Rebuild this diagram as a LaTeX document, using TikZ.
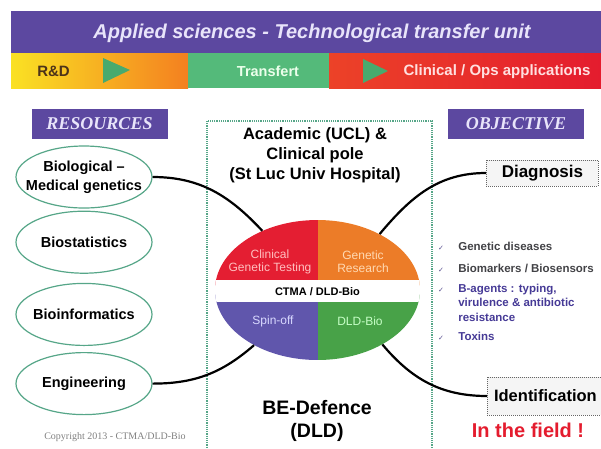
\documentclass[tikz,border=0pt]{standalone}
\usepackage{fontspec}
\setmainfont{Liberation Sans}
\newfontfamily\capsfont{Liberation Serif}
\newfontfamily\symbfont{DejaVu Sans}
\usepackage{tikz}
\usetikzlibrary{positioning, shapes.geometric}
\definecolor{ctmapurple}{RGB}{92,72,160}
\definecolor{ctmalav}{RGB}{232,228,250}
\definecolor{ctmayellow}{RGB}{250,225,35}
\definecolor{ctmaorange}{RGB}{244,128,32}
\definecolor{ctmagreen}{RGB}{84,186,122}
\definecolor{ctmared}{RGB}{228,28,46}
\definecolor{ctmaredor}{RGB}{236,66,40}
\definecolor{ctmatri}{RGB}{72,170,110}
\definecolor{ctmateal}{RGB}{86,166,136}
\definecolor{qred}{RGB}{228,30,50}
\definecolor{qorange}{RGB}{236,124,40}
\definecolor{qpurple}{RGB}{96,86,172}
\definecolor{qgreen}{RGB}{72,162,72}
\definecolor{ctmadark}{RGB}{66,66,70}
\definecolor{ctmablue}{RGB}{70,58,150}

\begin{document}
\begin{tikzpicture}[x=1pt, y=1pt,
      resbox/.style={ellipse, draw=ctmateal, line width=1.2pt, fill=white, minimum width=136pt, minimum height=62pt, inner xsep=-10pt, inner ysep=0pt, font=\bfseries\fontsize{14.5}{19}\selectfont, align=center},
      tagbox/.style={fill=ctmapurple, text=ctmalav, minimum width=136pt, minimum height=30pt, inner sep=0pt, font=\capsfont\bfseries\itshape\fontsize{18}{20}\selectfont},
      goalbox/.style={draw=gray!80!black, dash pattern=on 1pt off 1pt, thick, fill=gray!8, anchor=west, minimum width=112pt, inner sep=0pt, font=\bfseries\fontsize{17}{19}\selectfont},
      core/.style={ellipse, minimum width=205pt, minimum height=140pt, inner sep=0pt},
      quadtext/.style={font=\fontsize{12}{13}\selectfont, align=center},
      link/.style={line width=2.2pt, black},
      chkmark/.style={font=\symbfont\fontsize{7}{8}\selectfont, text=ctmablue!70!gray, inner sep=0pt},
      itemtext/.style={font=\bfseries\fontsize{11.5}{14.5}\selectfont, align=left, inner sep=0pt},
    ]
    \useasboundingbox (0,0) rectangle (601,-448);
    \clip (0,0) rectangle (601,-448);

    \fill[ctmapurple] (11,-11) rectangle (601,-53);
    \shade[left color=ctmayellow, right color=ctmaorange] (11,-53) rectangle (188,-88);
    \fill[ctmagreen] (188,-53) rectangle (329,-88);
    \shade[left color=ctmaredor, right color=ctmared] (329,-53) rectangle (601,-88);
    \fill[ctmatri] (103,-58) -- (130,-70) -- (103,-83) -- cycle;
    \fill[ctmatri] (363,-59) -- (388,-71) -- (363,-83) -- cycle;
    \node[text=ctmalav, font=\bfseries\itshape\fontsize{20}{22}\selectfont] (title) at (312,-33) {Applied sciences - Technological transfer unit};
    \node[text=black!60!brown, font=\bfseries\fontsize{15}{16}\selectfont] (rd) at (53.5,-71.5) {R\&D};
    \node[text=green!8, font=\bfseries\fontsize{14.5}{16}\selectfont] (transfert) at (268,-71) {Transfert};
    \node[text=red!12, font=\bfseries\fontsize{15}{16}\selectfont] (clinops) at (497,-72) {Clinical / Ops applications};

    \node[tagbox] (resources) at (99.5,-124) {RESOURCES};
    \node[tagbox] (objective) at (516,-123.5) {OBJECTIVE};

    \node[resbox] (bio) at (84,-177) {Biological --\\Medical genetics};
    \node[resbox, below=2pt of bio] (stats) {Biostatistics};
    \node[resbox, below=9pt of stats] (infor) {Bioinformatics};
    \node[resbox, below=6pt of infor] (eng) {Engineering};
    \node[text=gray, font=\capsfont\fontsize{10}{12}\selectfont] (copy) at (115,-437) {Copyright 2013 - CTMA/DLD-Bio};

    \draw[ctmateal, line width=1.2pt, dash pattern=on 1.2pt off 1pt] (207,-121) rectangle (432,-470);
    \node[font=\bfseries\fontsize{16.5}{20}\selectfont, align=center] (acad) at (315,-155) {Academic (UCL) \&\\Clinical pole\\(St Luc Univ Hospital)};
    \node[font=\bfseries\fontsize{19.5}{23}\selectfont, align=center] (bedef) at (317,-421) {BE-Defence\\(DLD)};

    \node[core, path picture={
        \fill[qred] (path picture bounding box.north west) rectangle (path picture bounding box.center);
        \fill[qorange] (path picture bounding box.north east) rectangle (path picture bounding box.center);
        \fill[qpurple] (path picture bounding box.south west) rectangle (path picture bounding box.center);
        \fill[qgreen] (path picture bounding box.south east) rectangle (path picture bounding box.center);
        \fill[white] ([yshift=10pt]path picture bounding box.west) rectangle ([yshift=-12pt]path picture bounding box.east);
      }] (core) at (317.5,-290) {};
    \node[quadtext, text=red!25] (clin) at (270,-261.5) {Clinical\\Genetic Testing};
    \node[quadtext, text=orange!30] (gres) at (363,-261.5) {Genetic\\Research};
    \node[font=\bfseries\fontsize{11}{12}\selectfont] (ctma) at (317.5,-291.5) {CTMA / DLD-Bio};
    \node[quadtext, text=blue!15] (spin) at (273,-321) {Spin-off};
    \node[quadtext, text=green!22] (dldbio) at (360,-321) {DLD-Bio};

    \node[goalbox, minimum height=26pt] (diag) at (486,-173) {Diagnosis};
    \node[goalbox, minimum height=38pt, minimum width=116pt, font=\bfseries\fontsize{16.5}{18}\selectfont] (ident) at (487,-396) {Identification};
    \node[text=ctmared, font=\bfseries\fontsize{20}{22}\selectfont] (field) at (528,-430) {In the field !};

    \draw[link] (bio.east) to[out=0, in=133] (core.133);
    \draw[link] (eng.east) to[out=0, in=-139] (core.221);
    \draw[link] (core.42) to[out=50, in=180] (diag.west);
    \draw[link] (core.-40) to[out=-50, in=180] (ident.west);

    \node[chkmark] (c1) at (441,-248) {✓};
    \node[chkmark] (c2) at (441,-270) {✓};
    \node[chkmark] (c3) at (441,-290) {✓};
    \node[chkmark] (c4) at (441,-338) {✓};
    \node[itemtext, text=ctmadark, base right=14pt of c1] (i1) {Genetic diseases};
    \node[itemtext, text=ctmadark, base right=14pt of c2] (i2) {Biomarkers / Biosensors};
    \node[itemtext, text=ctmablue, base right=14pt of c3, yshift=-29pt] (i3) {B-agents : typing,\\virulence \& antibiotic\\resistance};
    \node[itemtext, text=ctmablue, base right=14pt of c4] (i4) {Toxins};
  \end{tikzpicture}
\end{document}
